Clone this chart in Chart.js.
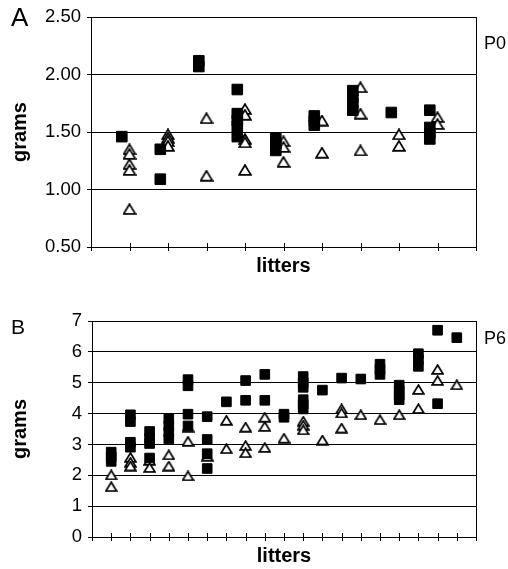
<!DOCTYPE html>
<html>
<head>
<meta charset="utf-8">
<script src="https://cdn.jsdelivr.net/npm/chart.js@4/dist/chart.umd.min.js"></script>
<style>
  body { margin: 0; background: #fff; font-family: "Liberation Sans", Arial, sans-serif; }
  #wrap { position: relative; width: 508px; height: 569px; }
  canvas { position: absolute; left: 0; }
  .lbl { position: absolute; line-height: 1; color: #000; white-space: nowrap; }
</style>
</head>
<body>
<div id="wrap">
  <canvas id="chartA" width="508" height="285" style="top:0"></canvas>
  <canvas id="chartB" width="508" height="284" style="top:285px"></canvas>
  <div class="lbl" style="left:11px; top:4px; font-size:26px;">A</div>
  <div class="lbl" style="left:484px; top:34px; font-size:18px;">P0</div>
  <div class="lbl" style="left:11px; top:316px; font-size:21px;">B</div>
  <div class="lbl" style="left:484px; top:329px; font-size:18px;">P6</div>
</div>
<script>
// P0 litters (panel A)
const littersA = [1, 2, 3, 4, 5, 6, 7, 8, 9];
const p0Squares = [
  [1.46],
  [1.35, 1.09],
  [2.12, 2.07],
  [1.87, 1.66, 1.60, 1.55, 1.46],
  [1.45, 1.40, 1.34],
  [1.64, 1.60, 1.56],
  [1.86, 1.80, 1.75, 1.69],
  [1.67],
  [1.69, 1.54, 1.49, 1.44]
];
const p0Triangles = [
  [1.35, 1.31, 1.22, 1.17, 0.83],
  [1.48, 1.45, 1.42, 1.38],
  [1.62, 1.12],
  [1.70, 1.65, 1.44, 1.41, 1.17],
  [1.42, 1.37, 1.24],
  [1.60, 1.32],
  [1.89, 1.66, 1.34],
  [1.48, 1.38],
  [1.63, 1.57]
];
const ticksA = [0.5, 1.0, 1.5, 2.0, 2.5];

// P6 litters (panel B)
const littersB = [1, 2, 3, 4, 5, 6, 7, 8, 9, 10, 11, 12, 13, 14, 15, 16, 17, 18, 19];
const p6Squares = [
  [2.75, 2.6, 2.45],
  [3.96, 3.74, 3.07, 2.91],
  [3.42, 3.2, 3.03, 2.56],
  [3.83, 3.6, 3.4, 3.18],
  [5.1, 4.9, 3.98, 3.6],
  [3.9, 3.16, 2.7, 2.22],
  [4.38],
  [5.07, 4.43],
  [5.27, 4.43],
  [3.98, 3.88],
  [5.2, 5.0, 4.85, 4.45, 4.3, 4.15],
  [4.76],
  [5.15],
  [5.12],
  [5.6, 5.43, 5.27],
  [4.92, 4.75, 4.6, 4.45],
  [5.94, 5.75, 5.53],
  [6.7, 4.32],
  [6.46]
];
const p6Triangles = [
  [2.01, 1.63],
  [2.58, 2.42, 2.3],
  [2.48, 2.25],
  [2.66, 2.3],
  [3.56, 3.1, 1.98],
  [2.62],
  [3.78, 2.86],
  [3.56, 2.96, 2.73],
  [3.88, 3.58, 2.9],
  [3.2],
  [3.75, 3.62, 3.47],
  [3.14],
  [4.15, 4.02, 3.53],
  [3.96],
  [3.8],
  [3.96],
  [4.78, 4.16],
  [5.43, 5.07],
  [4.93]
];
const ticksB = [0, 1, 2, 3, 4, 5, 6, 7];

const FONT = "'Liberation Sans', Arial, sans-serif";

function toPoints(litters, groups, shift) {
  const pts = [];
  groups.forEach((vals, i) => vals.forEach(v => pts.push({ x: litters[i] + shift, y: v })));
  return pts;
}

// open triangle marker, centred on its box like the original
function triangleImage(w, h, lw) {
  const c = document.createElement("canvas");
  c.width = w; c.height = h;
  const g = c.getContext("2d");
  const p = lw / 2 + 0.2;
  g.beginPath();
  g.moveTo(w / 2, p);
  g.lineTo(w - p, h - p);
  g.lineTo(p, h - p);
  g.closePath();
  g.fillStyle = "#fff";
  g.fill();
  g.lineWidth = lw;
  g.strokeStyle = "#000";
  g.stroke();
  return c;
}

// right frame line and tick marks crossing the x axis
const frame = {
  id: "frame",
  afterDraw(chart) {
    const { ctx, chartArea: a, scales: { x } } = chart;
    ctx.save();
    ctx.strokeStyle = "#000";
    ctx.lineWidth = 1;
    ctx.beginPath();
    const r = Math.round(a.right) + 0.5;
    ctx.moveTo(r, a.top);
    ctx.lineTo(r, a.bottom + 4);
    x.ticks.forEach(t => {
      const px = Math.round(x.getPixelForValue(t.value)) + 0.5;
      ctx.moveTo(px, a.bottom - 4);
      ctx.lineTo(px, a.bottom + 4);
    });
    ctx.stroke();
    ctx.restore();
  }
};

function makeChart(id, cfg) {
  return new Chart(document.getElementById(id), {
    type: "scatter",
    data: {
      datasets: [
        {
          data: cfg.squares,
          pointStyle: "rect",
          pointRadius: cfg.sq,
          pointHoverRadius: cfg.sq,
          backgroundColor: "#000",
          borderColor: "#000",
          borderWidth: 1
        },
        {
          data: cfg.triangles,
          pointStyle: cfg.tri,
          pointRadius: 6,
          borderWidth: 0
        }
      ]
    },
    options: {
      responsive: false,
      animation: false,
      devicePixelRatio: 1,
      layout: { padding: { top: cfg.top, right: 32, left: 0, bottom: 0 } },
      plugins: { legend: { display: false }, tooltip: { enabled: false } },
      scales: {
        x: {
          type: "linear",
          min: 0,
          max: cfg.xmax,
          ticks: { stepSize: 1, display: false },
          grid: { display: false },
          border: { display: true, color: "#000", width: 1 },
          title: {
            display: true,
            text: "litters",
            color: "#000",
            font: { family: FONT, size: 20, weight: "bold", lineHeight: 1.2 },
            padding: { top: 0, bottom: cfg.titlePad }
          },
          afterFit: s => { s.height = cfg.xh; }
        },
        y: {
          min: cfg.yticks[0],
          max: cfg.yticks[cfg.yticks.length - 1],
          afterBuildTicks: s => { s.ticks = cfg.yticks.map(v => ({ value: v })); },
          ticks: {
            padding: 6,
            color: "#000",
            font: { family: FONT, size: 18.5 },
            callback: v => v.toFixed(cfg.dec)
          },
          grid: { color: "#000", lineWidth: 1, tickLength: 4 },
          border: { color: "#000", width: 1 },
          title: {
            display: true,
            text: "grams",
            color: "#000",
            font: { family: FONT, size: 20, weight: "bold", lineHeight: 1.2 },
            padding: { top: 8, bottom: 0 }
          },
          afterFit: s => { s.width = cfg.yw; }
        }
      }
    },
    plugins: [frame]
  });
}

makeChart("chartA", {
  squares: toPoints(littersA, p0Squares, -0.2),
  triangles: toPoints(littersA, p0Triangles, 0),
  sq: 7.5,
  tri: triangleImage(14, 12, 1.8),
  top: 15, xh: 38, yw: 91, xmax: 10,
  yticks: ticksA, dec: 2, titlePad: 7
});

makeChart("chartB", {
  squares: toPoints(littersB, p6Squares, 0),
  triangles: toPoints(littersB, p6Triangles, 0),
  sq: 6.8,
  tri: triangleImage(13, 11, 1.7),
  top: 36, xh: 32, yw: 92, xmax: 20,
  yticks: ticksB, dec: 0, titlePad: 1
});
</script>
</body>
</html>
